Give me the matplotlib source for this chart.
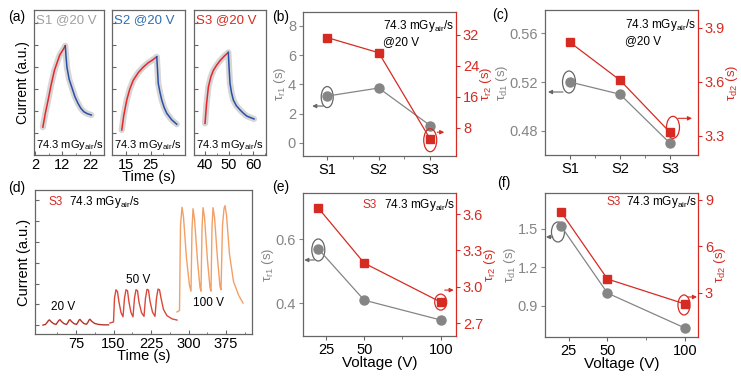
import matplotlib.pyplot as plt
from matplotlib.patches import Ellipse
from matplotlib.transforms import ScaledTranslation, offset_copy

plt.rcParams['font.family'] = ['Liberation Sans', 'DejaVu Sans']
plt.rcParams['mathtext.fontset'] = 'custom'
plt.rcParams['mathtext.rm'] = 'Liberation Sans'
plt.rcParams['mathtext.it'] = 'Liberation Sans:italic'

W, H = 741, 376
GRAY = '#858585'
RED = '#d62b22'
SPINE = '#666666'
DOSE = '74.3 mGy$_{\\mathrm{air}}$/s'

# ---- (a) transient of one pulse ----
s1_rise_t = [4.9, 5.8, 6.8, 7.9, 9.1, 11.0, 12.0, 13.0]
s1_rise_i = [0.27, 0.9, 1.5, 2.2, 2.86, 3.55, 3.75, 3.97]
s1_decay_t = [13.0, 13.3, 13.6, 14.4, 15.5, 16.5, 17.6, 18.6, 19.7, 21.0, 22.4]
s1_decay_i = [3.97, 3.45, 3.0, 2.45, 2.03, 1.65, 1.35, 1.13, 0.97, 0.88, 0.82]

s2_rise_t = [13.4, 14.2, 15.4, 16.6, 18.0, 20.0, 22.0, 24.0, 25.4, 27.4]
s2_rise_i = [0.14, 0.8, 1.5, 2.0, 2.4, 2.75, 3.0, 3.2, 3.3, 3.47]
s2_decay_t = [27.4, 27.7, 28.0, 28.7, 29.4, 30.4, 31.4, 33.4, 35.4]
s2_decay_i = [3.47, 2.9, 2.26, 1.85, 1.5, 1.15, 0.9, 0.6, 0.4]

s3_rise_t = [40.0, 40.6, 41.4, 42.4, 43.5, 44.9, 46.3, 48.0, 49.7]
s3_rise_i = [0.44, 1.3, 2.1, 2.55, 2.86, 3.1, 3.3, 3.5, 3.67]
s3_decay_t = [49.7, 50.0, 50.4, 51.0, 51.8, 53.0, 54.6, 56.0, 57.4, 59.0, 60.4]
s3_decay_i = [3.67, 3.0, 2.26, 1.85, 1.5, 1.25, 1.05, 0.9, 0.77, 0.7, 0.64]

# ---- (b), (c) ----
samples = ['S1', 'S2', 'S3']
tau_r1 = [3.2, 3.75, 1.18]
tau_r2 = [31.3, 27.4, 5.1]
tau_d1 = [0.52, 0.51, 0.47]
tau_d2 = [3.82, 3.61, 3.32]

# ---- (d) S3 current under pulses at 20/50/100 V ----
t20 = [9, 14, 17, 20, 22, 25, 30, 35, 38, 41, 43, 46, 51, 56, 59, 61, 63, 66, 71, 76,
       79, 81, 83, 86, 91, 96, 99, 101, 103, 106, 112, 120, 130, 140]
i20 = [0.0, 0.03, 0.12, 0.22, 0.25, 0.17, 0.07, 0.03, 0.13, 0.23, 0.26, 0.17, 0.07, 0.03,
       0.13, 0.23, 0.26, 0.17, 0.07, 0.03, 0.14, 0.24, 0.27, 0.18, 0.07, 0.04, 0.14, 0.24,
       0.28, 0.19, 0.08, 0.03, 0.01, 0.01]
t50 = [143, 150, 152, 155, 158, 161, 165, 169, 172, 175, 178, 181, 185, 189, 192, 195, 198,
       201, 206, 211, 214, 217, 220, 223, 228, 233, 236, 239, 242, 245, 250, 257, 267, 277]
i50 = [0.1, 0.15, 1.3, 1.7, 1.6, 1.1, 0.6, 0.4, 1.3, 1.7, 1.65, 1.1, 0.6, 0.4, 1.3, 1.7, 1.65,
       1.1, 0.6, 0.42, 1.3, 1.72, 1.68, 1.15, 0.62, 0.42, 1.3, 1.73, 1.7, 1.3, 0.75, 0.45,
       0.3, 0.24]
t100 = [277, 282, 284, 287, 290, 296, 302, 305, 307, 309, 312, 318, 323, 325, 327, 329, 332,
        338, 343, 345, 347, 349, 352, 358, 363, 365, 368, 371, 373, 376, 382, 390, 400, 409]
i100 = [0.63, 0.7, 4.8, 5.67, 5.2, 3.2, 1.9, 1.63, 4.6, 5.6, 5.1, 3.1, 1.8, 1.63, 4.6, 5.65,
        5.2, 3.1, 1.8, 1.63, 4.7, 5.65, 5.2, 3.2, 1.85, 1.7, 4.8, 5.6, 5.75, 5.3, 3.4, 2.1,
        1.45, 1.06]

# ---- (e), (f) ----
voltage = [20, 50, 100]
v_tau_r1 = [0.569, 0.409, 0.347]
v_tau_r2 = [3.65, 3.195, 2.873]
v_tau_d1 = [1.523, 1.0, 0.728]
v_tau_d2 = [8.23, 3.9, 2.29]

fig = plt.figure(figsize=(W / 100, H / 100), dpi=100)


def px_axes(l, t, r, b):
    return fig.add_axes([l / W, 1 - b / H, (r - l) / W, (b - t) / H])


def ring(ax, x, y, dx, dy, w, h, color):
    tr = fig.dpi_scale_trans + ScaledTranslation(x, y, ax.transData)
    ax.add_patch(Ellipse((dx / 100, dy / 100), w / 100, h / 100, transform=tr,
                         fill=False, ec=color, lw=0.9, clip_on=False))


def arrow(ax, x, y, p0, p1, color):
    t0 = offset_copy(ax.transData, fig=fig, x=p0[0], y=p0[1], units='dots')
    t1 = offset_copy(ax.transData, fig=fig, x=p1[0], y=p1[1], units='dots')
    ax.annotate('', xy=(x, y), xycoords=t1, xytext=(x, y), textcoords=t0,
                arrowprops=dict(arrowstyle='-|>', color=color, lw=0.8,
                                mutation_scale=6, shrinkA=0, shrinkB=0))


def frame(ax):
    for s in ax.spines.values():
        s.set_color(SPINE)
        s.set_linewidth(0.9)


# ---------------- panel (a) ----------------
a_boxes = [(34, 10, 104, 155), (112, 10, 185, 155), (194, 10, 266, 155)]
a_xlim = [(1.7, 24.3), (9.5, 38.7), (35.4, 65.4)]
a_ticks = [[2, 12, 22], [15, 25], [40, 50, 60]]
a_names = ['S1 @20 V', 'S2 @20 V', 'S3 @20 V']
a_cols = ['#a0a0a0', '#2f6fb0', RED]
a_data = [(s1_rise_t, s1_rise_i, s1_decay_t, s1_decay_i),
          (s2_rise_t, s2_rise_i, s2_decay_t, s2_decay_i),
          (s3_rise_t, s3_rise_i, s3_decay_t, s3_decay_i)]
a_axes = []
for k in range(3):
    ax = px_axes(*a_boxes[k])
    frame(ax)
    rt, ri, dt, di = a_data[k]
    ax.plot(rt + dt[1:], ri + di[1:], color='#d6d6d6', lw=4.5, solid_capstyle='round')
    ax.plot(rt, ri, color='#e8262a', lw=1.1)
    ax.plot(dt, di, color='#2a4fa8', lw=1.1)
    ax.set_xlim(*a_xlim[k])
    ax.set_ylim(-1, 5.6)
    ax.set_xticks(a_ticks[k])
    ax.set_xticks([v + 5 for v in a_ticks[k]], minor=True)
    ax.set_yticks(range(0, 6))
    ax.set_yticklabels([])
    ax.tick_params(direction='in', length=3, labelsize=10.5, pad=2, color=SPINE)
    ax.tick_params(which='minor', direction='in', length=1.5, color=SPINE)
    ax.text(0.03, 0.93, a_names[k], color=a_cols[k], fontsize=9.5,
            transform=ax.transAxes, va='center')
    ax.text(0.03, 0.07, DOSE, fontsize=8, transform=ax.transAxes, va='center')
    a_axes.append(ax)
a_axes[0].set_ylabel('Current (a.u.)', fontsize=10, labelpad=1)
a_axes[1].set_xlabel('Time (s)', fontsize=10.5, labelpad=-1)


def twin_panel(box, x, y1, y2, ylim1, ylim2, yt1, yt2, lab1, lab2, xlim):
    ax = px_axes(*box)
    frame(ax)
    ax2 = ax.twinx()
    ax.spines['right'].set_visible(False)
    for s in ['left', 'top', 'bottom']:
        ax2.spines[s].set_visible(False)
    ax2.spines['right'].set_color(RED)
    ax2.spines['right'].set_linewidth(0.9)
    ax.plot(x, y1, '-o', color=GRAY, lw=0.9, ms=6.5, zorder=3)
    ax2.plot(x, y2, '-s', color=RED, lw=0.9, ms=5.5, zorder=3)
    ax.set_xlim(*xlim)
    ax.set_ylim(*ylim1)
    ax2.set_ylim(*ylim2)
    ax.set_yticks(yt1)
    ax2.set_yticks(yt2)
    ax.tick_params(axis='y', colors=GRAY, labelsize=10.5, length=3, pad=2)
    ax.tick_params(axis='x', colors=SPINE, labelcolor='black', labelsize=10.5, length=3, pad=2)
    ax.tick_params(axis='x', which='minor', colors=SPINE, length=2)
    ax2.tick_params(axis='y', colors=RED, labelsize=10.5, length=3, pad=2)
    ax.set_ylabel(lab1, color=GRAY, fontsize=9.5, labelpad=0)
    ax2.set_ylabel(lab2, color=RED, fontsize=9.5, labelpad=-1)
    return ax, ax2


xs = list(range(len(samples)))

# ---------------- panel (b) ----------------
axb, axb2 = twin_panel((303, 12, 456, 156), xs, tau_r1, tau_r2, (-0.9, 8.95), (0.77, 37.9),
                       [0, 2, 4, 6, 8], [8, 16, 24, 32],
                       '\u03c4$_{\\mathrm{r1}}$ (s)', '\u03c4$_{\\mathrm{r2}}$ (s)', (-0.47, 2.5))
axb.set_xticks(xs)
axb.set_xticklabels(samples)
axb.set_xticks([0.5, 1.5], minor=True)
axb.text(0.52, 0.96, DOSE + '\n@20 V', fontsize=8.5, transform=axb.transAxes, va='top',
         linespacing=1.25)
ring(axb, xs[0], tau_r1[0], 0, -1, 12, 21, SPINE)
arrow(axb, xs[0], tau_r1[0], (-4, -10), (-15, -10), SPINE)
ring(axb2, xs[2], tau_r2[2], 0, -1, 13, 23, RED)
arrow(axb2, xs[2], tau_r2[2], (7, 7), (14, 7), RED)

# ---------------- panel (c) ----------------
axc, axc2 = twin_panel((545, 10, 698, 155), xs, tau_d1, tau_d2, (0.4604, 0.5788), (3.194, 4.0),
                       [0.48, 0.52, 0.56], [3.3, 3.6, 3.9],
                       '\u03c4$_{\\mathrm{d1}}$ (s)', '\u03c4$_{\\mathrm{d2}}$ (s)', (-0.5, 2.56))
axc.yaxis.set_label_coords(-0.226, 0.5)
axc.set_xticks(xs)
axc.set_xticklabels(samples)
axc.set_xticks([0.5, 1.5], minor=True)
axc.text(0.52, 0.95, DOSE + '\n@20 V', fontsize=8.5, transform=axc.transAxes, va='top',
         linespacing=1.25)
ring(axc, xs[0], tau_d1[0], -1, 0, 13, 22, SPINE)
arrow(axc, xs[0], tau_d1[0], (-7, -10), (-22, -10), SPINE)
ring(axc2, xs[2], tau_d2[2], 3, 5, 13, 22, RED)
arrow(axc2, xs[2], tau_d2[2], (8, 14), (22, 14), RED)

# ---------------- panel (d) ----------------
axd = px_axes(35, 190, 252, 334)
frame(axd)
axd.plot(t20, i20, color='#b5352b', lw=1.0)
axd.plot(t50, i50, color='#d9483b', lw=1.0)
axd.plot(t100, i100, color='#f2a066', lw=1.0)
axd.set_xlim(-7, 427)
axd.set_ylim(-0.43, 6.5)
axd.set_xticks([75, 150, 225, 300, 375])
axd.set_xticks([37.5, 112.5, 187.5, 262.5, 337.5, 412.5], minor=True)
axd.set_yticks(range(0, 7))
axd.set_yticklabels([])
axd.tick_params(direction='in', length=3, labelsize=10.5, pad=2, color=SPINE)
axd.tick_params(which='minor', direction='in', length=1.5, color=SPINE)
axd.set_ylabel('Current (a.u.)', fontsize=10.5, labelpad=1)
axd.set_xlabel('Time (s)', fontsize=10.5, labelpad=-1)
axd.text(49, 0.87, '20 V', fontsize=8.5, ha='center', va='center')
axd.text(199, 2.16, '50 V', fontsize=8.5, ha='center', va='center')
axd.text(340, 1.06, '100 V', fontsize=8.5, ha='center', va='center')
axd.text(0.06, 0.915, 'S3', color=RED, fontsize=8.5, transform=axd.transAxes, va='center')
axd.text(0.157, 0.915, DOSE, fontsize=8.5, transform=axd.transAxes, va='center')

# ---------------- panel (e) ----------------
axe, axe2 = twin_panel((303, 193, 456, 336), voltage, v_tau_r1, v_tau_r2, (0.297, 0.744),
                       (2.593, 3.774), [0.4, 0.6], [2.7, 3.0, 3.3, 3.6],
                       '\u03c4$_{\\mathrm{r1}}$ (s)', '\u03c4$_{\\mathrm{r2}}$ (s)', (10, 110))
axe.set_xticks([25, 50, 100])
axe.set_xticks([75], minor=True)
axe.set_xlabel('Voltage (V)', fontsize=11, labelpad=-1)
axe.text(0.39, 0.915, 'S3', color=RED, fontsize=8.5, transform=axe.transAxes, va='center')
axe.text(0.53, 0.915, DOSE, fontsize=8.5, transform=axe.transAxes, va='center')
ring(axe, voltage[0], v_tau_r1[0], 0, -1, 13, 22, SPINE)
arrow(axe, voltage[0], v_tau_r1[0], (-4, -11), (-14, -11), SPINE)
ring(axe2, voltage[2], v_tau_r2[2], 0, 0, 12, 16, RED)
arrow(axe2, voltage[2], v_tau_r2[2], (4, 12), (13, 12), RED)

# ---------------- panel (f) ----------------
axf, axf2 = twin_panel((545, 193, 698, 337), voltage, v_tau_d1, v_tau_d2, (0.658, 1.78),
                       (0.16, 9.45), [0.9, 1.2, 1.5], [3, 6, 9],
                       '\u03c4$_{\\mathrm{d1}}$ (s)', '\u03c4$_{\\mathrm{d2}}$ (s)', (9.7, 108.4))
axf.set_xticks([25, 50, 100])
axf.set_xticks([75], minor=True)
axf.set_xlabel('Voltage (V)', fontsize=11, labelpad=-1)
axf.text(0.405, 0.94, 'S3', color=RED, fontsize=8.5, transform=axf.transAxes, va='center')
axf.text(0.53, 0.94, DOSE, fontsize=8.5, transform=axf.transAxes, va='center')
ring(axf, voltage[0], v_tau_d1[0], -3, -6, 13, 20, SPINE)
arrow(axf, voltage[0], v_tau_d1[0], (-8, -11), (-15, -11), SPINE)
ring(axf2, voltage[2], v_tau_d2[2], -1, -1, 12, 20, RED)
arrow(axf2, voltage[2], v_tau_d2[2], (3, 7), (12, 7), RED)

# panel letters
for lab, x, y in [('(a)', 8, 17), ('(b)', 272, 17), ('(c)', 492, 15),
                  ('(d)', 8, 188), ('(e)', 272, 187), ('(f)', 497, 183)]:
    fig.text(x / W, 1 - y / H, lab, fontsize=10, va='center')

fig.savefig('out.png', dpi=100)
